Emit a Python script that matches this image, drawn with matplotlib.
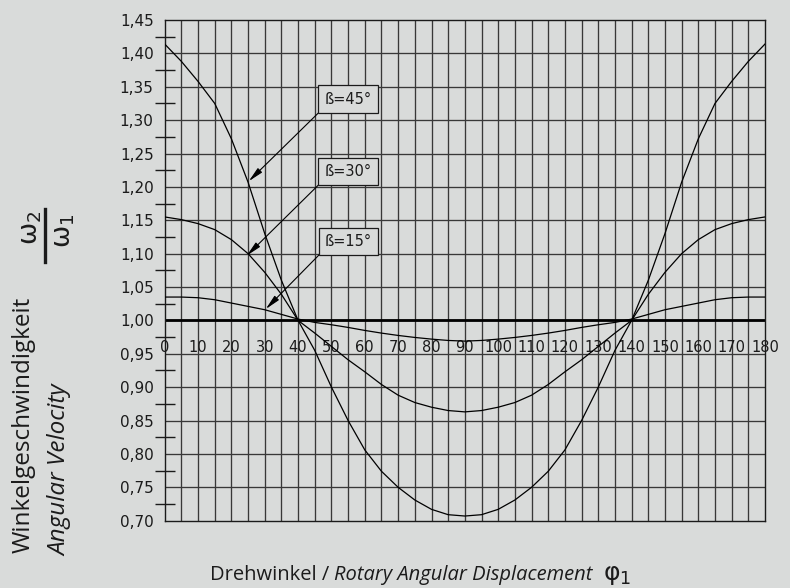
import numpy as np
import matplotlib
matplotlib.use('Agg')
import matplotlib.pyplot as plt
from matplotlib.lines import Line2D

# angular velocity ratio w2/w1 of a cardan joint over one half turn
phi = list(range(0, 185, 5))
beta45 = [1.414, 1.388, 1.358, 1.325, 1.272, 1.207, 1.130, 1.060, 1.000, 0.955,
          0.900, 0.850, 0.806, 0.774, 0.750, 0.731, 0.717, 0.709, 0.707,
          0.709, 0.717, 0.731, 0.750, 0.774, 0.806, 0.850, 0.900, 0.955, 1.000,
          1.060, 1.130, 1.207, 1.272, 1.325, 1.358, 1.388, 1.414]
beta30 = [1.155, 1.151, 1.145, 1.136, 1.121, 1.100, 1.072, 1.039, 1.000, 0.981,
          0.961, 0.941, 0.923, 0.904, 0.888, 0.877, 0.870, 0.865, 0.863,
          0.865, 0.870, 0.877, 0.888, 0.904, 0.923, 0.941, 0.961, 0.981, 1.000,
          1.039, 1.072, 1.100, 1.121, 1.136, 1.145, 1.151, 1.155]
beta15 = [1.035, 1.035, 1.034, 1.031, 1.026, 1.021, 1.016, 1.009, 1.002, 0.997,
          0.9935, 0.9895, 0.985, 0.981, 0.9775, 0.9745, 0.972, 0.970, 0.969,
          0.970, 0.972, 0.9745, 0.9775, 0.981, 0.985, 0.9895, 0.9935, 0.997, 1.002,
          1.009, 1.016, 1.021, 1.026, 1.031, 1.034, 1.035, 1.035]

y_ticks = [0.70, 0.75, 0.80, 0.85, 0.90, 0.95, 1.00, 1.05, 1.10, 1.15,
           1.20, 1.25, 1.30, 1.35, 1.40, 1.45]
x_ticks = [0, 10, 20, 30, 40, 50, 60, 70, 80, 90, 100, 110, 120, 130, 140, 150, 160, 170, 180]

# label text, arrow tip on the curve, box centre
callouts = [
    ('ß=45°', (25.2, 1.2085), (55.0, 1.3315)),
    ('ß=30°', (24.6, 1.097), (55.0, 1.2235)),
    ('ß=15°', (30.3, 1.017), (55.1, 1.1185)),
]

bg = '#d9dbda'
ink = '#1b1b1b'
tech = ['Liberation Sans Narrow', 'DejaVu Sans']
sans = ['Open Sans', 'DejaVu Sans']
plt.rcParams['mathtext.default'] = 'regular'

W, H = 790, 588
fig = plt.figure(figsize=(W / 100, H / 100), dpi=100, facecolor=bg)
ax = fig.add_axes([164.7 / W, (H - 520.7) / H, 600.3 / W, 500.7 / H], facecolor=bg)
ax.set_xlim(0, 180)
ax.set_ylim(0.70, 1.45)

# grid every 5 degrees / every 0.05
for x in range(5, 180, 5):
    ax.axvline(x, color='#383838', lw=0.95, zorder=1)
for y in y_ticks[1:-1]:
    ax.axhline(y, color='#383838', lw=0.95, zorder=1)
ax.axhline(1.0, color='black', lw=2.0, zorder=2)

for s in ax.spines.values():
    s.set_color(ink)
    s.set_linewidth(1.0)

ax.set_xticks([])
ax.set_yticks(y_ticks)
ax.set_yticklabels([f'{v:.2f}'.replace('.', ',') for v in y_ticks],
                   fontfamily=tech, fontsize=11, color=ink)
ax.set_yticks(np.array(y_ticks[:-1]) + 0.025, minor=True)
ax.tick_params(axis='y', which='major', length=0, pad=8)
ax.tick_params(axis='y', which='minor', direction='inout', length=15, width=1.0, color=ink)

for x in x_ticks:
    ax.text(x, 0.96, str(x), ha='center', va='center', fontfamily=tech,
            fontsize=10.5, color=ink, zorder=3)

for vals in (beta45, beta30, beta15):
    ax.plot(phi, vals, color='black', lw=0.9, zorder=4)

for label, tip, centre in callouts:
    ax.text(centre[0], centre[1], label, ha='center', va='center', fontfamily=tech,
            fontsize=10.5, color=ink, zorder=6,
            bbox=dict(boxstyle='square,pad=0.42', facecolor=bg, edgecolor=ink, lw=0.9))
    start = (centre[0] - 8.2, centre[1] - 0.0172)
    ax.annotate('', xy=tip, xytext=start, zorder=5,
                arrowprops=dict(arrowstyle='-|>,head_length=0.9,head_width=0.18',
                                color='black', lw=0.8, shrinkA=0, shrinkB=0))

# vertical axis title
fig.text(24 / W, 1 - 553 / H, 'Winkelgeschwindigkeit', rotation=90, ha='center',
         va='bottom', fontfamily=sans, fontsize=17.5, color=ink)
fig.text(60 / W, 1 - 556 / H, 'Angular Velocity', rotation=90, ha='center',
         va='bottom', fontfamily=sans, fontsize=17.5, style='italic', color=ink)
fig.text(31 / W, 1 - 228 / H, r'$\omega_2$', rotation=90, ha='center', va='center',
         fontsize=19, color=ink)
fig.text(64 / W, 1 - 231 / H, r'$\omega_1$', rotation=90, ha='center', va='center',
         fontsize=19, color=ink)
fig.add_artist(Line2D([45 / W, 45 / W], [1 - 209 / H, 1 - 262 / H],
                      color=ink, lw=2.4, transform=fig.transFigure))

# horizontal axis title, pieces set one after another
fig.canvas.draw()
r = fig.canvas.get_renderer()
base = 1 - 580 / H
t1 = fig.text(210 / W, base, 'Drehwinkel / ', fontfamily=sans, fontsize=14.5,
              color=ink, va='baseline')
x1 = t1.get_window_extent(r).x1
t2 = fig.text(x1 / W, base, 'Rotary Angular Displacement', fontfamily=sans,
              fontsize=14.5, style='italic', color=ink, va='baseline')
x2 = t2.get_window_extent(r).x1
fig.text((x2 + 10) / W, base, r'$\varphi_1$', fontsize=18, color=ink, va='baseline')

fig.savefig('out.png', dpi=100, facecolor=bg)
